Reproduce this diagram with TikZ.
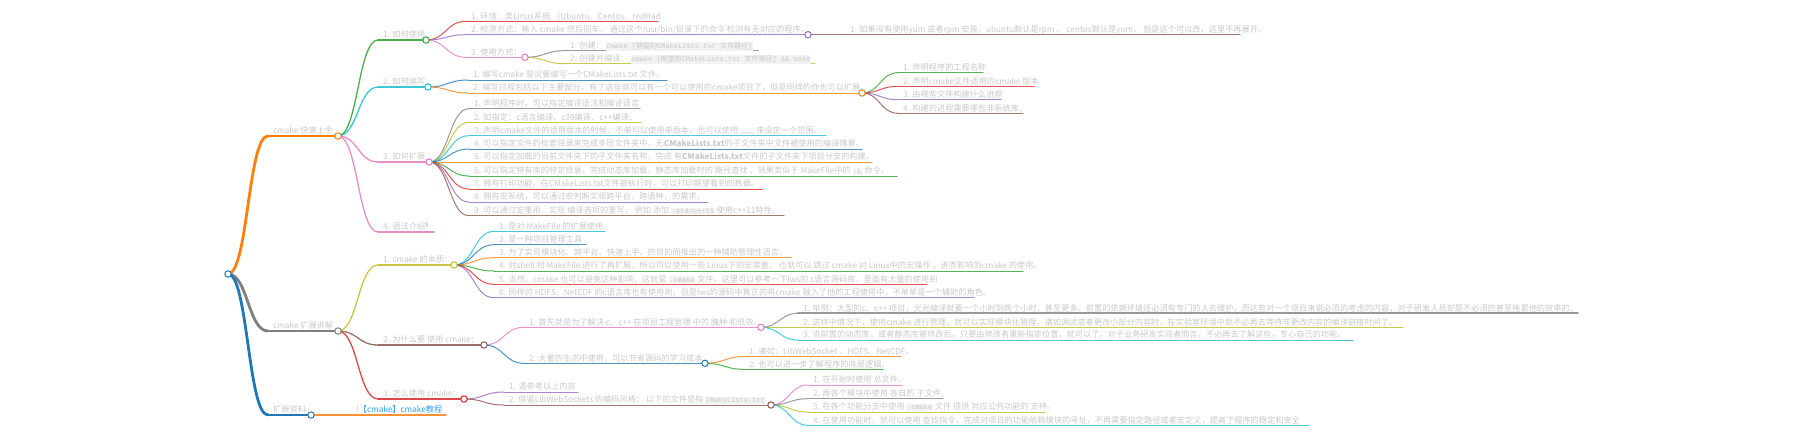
\documentclass[tikz,border=0pt]{standalone}
\usepackage{fontspec}
\setmainfont{Noto Sans CJK SC}
\setmonofont{Liberation Mono}
\newfontfamily\zhfont{Noto Sans CJK SC}
\usetikzlibrary{calc}

\definecolor{cblue}{HTML}{1F77B4}
\definecolor{corange}{HTML}{FF7F0E}
\definecolor{cgreen}{HTML}{2CA02C}
\definecolor{cred}{HTML}{D62728}
\definecolor{cpurple}{HTML}{9467BD}
\definecolor{cbrown}{HTML}{8C564B}
\definecolor{cpink}{HTML}{E377C2}
\definecolor{cgray}{HTML}{7F7F7F}
\definecolor{colive}{HTML}{BCBD22}
\definecolor{ccyan}{HTML}{17BECF}
\definecolor{txtgray}{RGB}{200,200,200}
\definecolor{codebg}{RGB}{242,242,242}
\definecolor{linkblue}{RGB}{50,160,230}

% inline code in a grey box
\newcommand{\code}[1]{{\setlength{\fboxsep}{0.8pt}\colorbox{codebg}{\ttfamily\fontsize{7}{8}\selectfont #1}}}
% topic: name, x start, x end, y, line style, text
\newcommand{\mmtopic}[6]{%
  \coordinate (#1) at (#2,#4);
  \coordinate (#1-e) at (#3,#4);
  \draw[#5] (#1) -- (#1-e);
  \node[txt] (#1-t) at ($(#1)+(5,-2.2)$) {#6};}
% branch from parent circle to child line
\newcommand{\mmlink}[3]{%
  \draw[#3] let \p1=(#1-e), \p2=(#2) in
    (\p1) .. controls ({(\x1+\x2)/2},\y1) and ({(\x1+\x2)/2},\y2) .. (\p2);}

\begin{document}
\begin{tikzpicture}[x=1pt,y=-1pt,line cap=round,
  dot/.style={circle,fill=white,line width=1pt,inner sep=0pt,minimum size=6.4pt},
  txt/.style={anchor=base west,inner sep=0pt,text=txtgray,font=\fontsize{8.2}{9}\selectfont},
  l1/.style={line width=2.8pt},l2/.style={line width=1.3pt,draw opacity=.85},
  l3/.style={line width=1pt,draw opacity=.8}]
\useasboundingbox (0,0) rectangle (1812,437);
\coordinate (root-e) at (228,274);

% level 1
\mmtopic{A}{268}{338}{136}{l1,corange}{cmake 快速上手}
\mmtopic{B}{268}{338}{331}{l1,cgray}{cmake 扩展讲解}
\mmtopic{C}{268}{311}{415}{l1,cblue}{扩展资料}

% cmake 快速上手
\mmtopic{A1}{378}{426}{40}{l2,cgreen}{1. 如何使用}
\mmtopic{A2}{378}{428}{87}{l2,ccyan}{2. 如何编写}
\mmtopic{A3}{378}{429}{162}{l2,cpink}{3. 如何扩展}
\mmtopic{A4}{378}{434}{232}{l2,cpink}{4. 语法介绍\textsuperscript{\color{linkblue}1}}

\mmtopic{A11}{466}{658}{21.3}{l3,cred}{1. 环境：类Linux系统 （Ubuntu、Centos、redHad}
\mmtopic{A12}{466}{808}{34.7}{l3,cpurple}{2. 检测方式：输入 cmake 然后回车， 通过这个/usr/bin/目录下的命令 检测有无对应的程序。}
\mmtopic{A121}{845}{1240}{34.7}{l3,cbrown}{1. 如果没有使用yum 或者rpm 安装。ubuntu默认是rpm 、 centos默认是yum， 但是这个可以改，这里不再展开。}
\mmtopic{A13}{466}{525}{57.3}{l3,cpink}{3. 使用方式：}
\mmtopic{A131}{565}{758}{50.7}{l3,cgray}{1. 创建： \code{cmake [{\zhfont 期望的}CMakeLists.txt {\zhfont 文件路径}]}}
\mmtopic{A132}{565}{815}{63.7}{l3,colive}{2. 创建并编译： \code{cmake [{\zhfont 期望的}CMakeLists.txt {\zhfont 文件路径}] \&\& make}}

\mmtopic{A21}{468}{667}{80}{l3,cblue}{1. 编写cmake 是说要编写一个CMakeLists.txt 文件。}
\mmtopic{A22}{468}{862}{93}{l3,corange}{2. 编写过程包括以下主要部分，有了这些就可以有一个可以使用的cmake项目了，但是同样的你也可以扩展。}
\mmtopic{A221}{898}{983}{72.7}{l3,cgreen}{1. 声明程序的工程名称}
\mmtopic{A222}{898}{1034}{86.3}{l3,cred}{2. 声明cmake文件适用的cmake 版本}
\mmtopic{A223}{898}{1001}{99.7}{l3,cpurple}{3. 由哪些文件构建什么进程}
\mmtopic{A224}{898}{1023}{113.3}{l3,cbrown}{4. 构建的进程需要哪些非系统库。}

\mmtopic{A31}{469}{640}{108.7}{l3,cgray}{1. 声明程序时，可以指定编译语法和编译语言}
\mmtopic{A32}{469}{641}{122.3}{l3,colive}{2. 如指定：c语言编译、c99编译、c++编译、}
\mmtopic{A33}{469}{826}{135.7}{l3,ccyan}{3. 声明cmake文件的适用版本的时候，不单可以使用单版本，也可以使用 \code{...} 来设定一个范围。}
\mmtopic{A34}{469}{862}{149}{l3,cblue}{4. 可以指定文件的检索目录来完成多层文件夹中，无\textbf{CMakeLists.txt}的子文件夹中文件被使用的编译情景。}
\mmtopic{A35}{469}{872}{162}{l3,corange}{5. 可以指定加载的当前文件夹下的子文件夹名称，完成 有\textbf{CMakeLists.txt}文件的子文件夹下项目分支的构建。}
\mmtopic{A36}{469}{897}{176}{l3,cgreen}{6. 可以指定特有库的特定目录，完成动态库加载，静态库加载时的 路径查找 。效果类似于 MakeFile中的 \code{-L} 命令。}
\mmtopic{A37}{469}{762}{189}{l3,cred}{7. 拥有打印功能，在CMakeLists.txt文件被执行时，可以打印期望看到的数据。}
\mmtopic{A38}{469}{708}{202}{l3,cpurple}{8. 拥有宏系统，可以通过宏判断实现跨平台，跨语种，的需求。}
\mmtopic{A39}{469}{784}{215.7}{l3,cbrown}{9. 可以通过宏重用，实现 编译选项的重写， 例如 添加 \code{-std=c++11} 使用c++11特性。}

% cmake 扩展讲解
\mmtopic{B1}{378}{454}{265}{l2,colive}{1. cmake 的本质：}
\mmtopic{B2}{378}{484}{345}{l2,cbrown}{2. 为什么要 使用 cmake：}
\mmtopic{B3}{378}{464}{399}{l2,cred}{3. 怎么使用 cmake：}

\mmtopic{B11}{494}{605}{231.3}{l3,ccyan}{1. 是对 MakeFile 的扩展使用}
\mmtopic{B12}{494}{586}{244.7}{l3,cblue}{2. 是一种项目管理工具}
\mmtopic{B13}{494}{791}{257.7}{l3,corange}{3. 为了实现模块化、跨平台、快速上手、的目的而推出的一种辅助管理性语言。}
\mmtopic{B14}{494}{1023}{271}{l3,cgreen}{4. 对shell 和 MakeFile 进行了再扩展，所以可以使用一些 Linux下的宏常量。 也就可以 跳过 cmake 对 Linux中的宏操作 ，进而影响到cmake 的使用。}
\mmtopic{B15}{494}{927}{284.3}{l3,cred}{5. 当然，cmake 也可以避免这种影响，这就是 \code{.cmake} 文件，这里可以参考一下lws的 c语言源码库，里面有大量的使用到}
\mmtopic{B16}{494}{974}{297.7}{l3,cpurple}{6. 同样的 HDF5、NetCDF 的c语言库也有使用到，但是lws的源码中真正的将cmake 融入了他的工程使用中，不单单是一个辅助的角色。}

\mmtopic{B21}{524}{761}{327.3}{l3,cpink}{1. 首先就是为了解决 c、c++ 在项目工程管理 中的 臃肿 和低效。}
\mmtopic{B211}{798}{1578}{313.3}{l3,cgray,line width=1.8pt}{1. 举例：大型的c、c++ 项目，光光编译就要一个小时到两个小时，甚至更多。前置的依赖环境还必须有专门的人去维护。而这些对一个项目来说必须的考虑的内容，对于研发人员却是不必须的甚至拖累他的效率的。}
\mmtopic{B212}{798}{1403}{327.3}{l3,colive}{2. 这样中情况下，使用cmake 进行管理，就可以实现模块化管理，诸如调试或者更改小部分内容时，在实验室环境中就不必再去等待非更改内容的编译链接时间了。}
\mmtopic{B213}{798}{1353}{340}{l3,ccyan}{3. 当前置的动态库，或者静态库被修改后，只要由修改者重新指定位置，就可以了。对于业务研发实现者而言，不必再去了解这些，专心自己的功能。}
\mmtopic{B22}{524}{705}{363.3}{l3,cblue}{2. 大量的生态中使用，可以节省源码的学习成本}
\mmtopic{B221}{744}{901}{356.7}{l3,corange}{1. 诸如：LibWebSocket 、HDF5、NetCDF，}
\mmtopic{B222}{744}{883}{369.3}{l3,cgreen}{2. 也可以进一步了解程序的底层逻辑。}

\mmtopic{B31}{504}{578}{392}{l3,cpurple}{1. 请参考以上内容}
\mmtopic{B32}{504}{771}{405}{l3,cbrown}{2. 借鉴LibWebSockets 的编码风格： 以下的文件是指 \code{CMakeLists.txt}}
\mmtopic{B321}{808}{902}{385}{l3,cpink}{1. 在开始时使用 总文件。}
\mmtopic{B322}{808}{943}{398.7}{l3,cgray}{2. 再各个模块中使用 各自的 子文件。}
\mmtopic{B323}{808}{1045}{412}{l3,colive}{3. 在各个功能分支中使用 \code{.cmake} 文件 提供 对应公共功能的 支持。}
\mmtopic{B324}{808}{1309}{425.3}{l3,ccyan}{4. 在使用功能时，就可以使用 查找指令，完成对项目的功能依赖模块的寻址，不再需要指定路径或者宏定义，提高了程序的稳定和安全}

% 扩展资料
\mmtopic{C1}{351}{446}{415}{l2,corange}{!{\color{linkblue}【cmake】cmake教程}}

% branches
\mmlink{root}{A}{l1,corange}
\mmlink{root}{B}{l1,cgray}
\mmlink{root}{C}{l1,cblue}
\mmlink{A}{A1}{l2,cgreen}
\mmlink{A}{A2}{l2,ccyan}
\mmlink{A}{A3}{l2,cpink}
\mmlink{A}{A4}{l2,cpink}
\mmlink{A1}{A11}{l3,cred}
\mmlink{A1}{A12}{l3,cpurple}
\mmlink{A1}{A13}{l3,cpink}
\mmlink{A12}{A121}{l3,cbrown}
\mmlink{A13}{A131}{l3,cgray}
\mmlink{A13}{A132}{l3,colive}
\mmlink{A2}{A21}{l3,cblue}
\mmlink{A2}{A22}{l3,corange}
\mmlink{A22}{A221}{l3,cgreen}
\mmlink{A22}{A222}{l3,cred}
\mmlink{A22}{A223}{l3,cpurple}
\mmlink{A22}{A224}{l3,cbrown}
\mmlink{A3}{A31}{l3,cgray}
\mmlink{A3}{A32}{l3,colive}
\mmlink{A3}{A33}{l3,ccyan}
\mmlink{A3}{A34}{l3,cblue}
\mmlink{A3}{A35}{l3,corange}
\mmlink{A3}{A36}{l3,cgreen}
\mmlink{A3}{A37}{l3,cred}
\mmlink{A3}{A38}{l3,cpurple}
\mmlink{A3}{A39}{l3,cbrown}
\mmlink{B}{B1}{l2,colive}
\mmlink{B}{B2}{l2,cbrown}
\mmlink{B}{B3}{l2,cred}
\mmlink{B1}{B11}{l3,ccyan}
\mmlink{B1}{B12}{l3,cblue}
\mmlink{B1}{B13}{l3,corange}
\mmlink{B1}{B14}{l3,cgreen}
\mmlink{B1}{B15}{l3,cred}
\mmlink{B1}{B16}{l3,cpurple}
\mmlink{B2}{B21}{l3,cpink}
\mmlink{B2}{B22}{l3,cblue}
\mmlink{B21}{B211}{l3,cgray}
\mmlink{B21}{B212}{l3,colive}
\mmlink{B21}{B213}{l3,ccyan}
\mmlink{B22}{B221}{l3,corange}
\mmlink{B22}{B222}{l3,cgreen}
\mmlink{B3}{B31}{l3,cpurple}
\mmlink{B3}{B32}{l3,cbrown}
\mmlink{B32}{B321}{l3,cpink}
\mmlink{B32}{B322}{l3,cgray}
\mmlink{B32}{B323}{l3,colive}
\mmlink{B32}{B324}{l3,ccyan}
\mmlink{C}{C1}{l2,corange}

% circles on top
\foreach \n/\c in {root/cblue,A/corange,B/cgray,C/cblue,A1/cgreen,A12/cpurple,A13/cpink,
  A2/ccyan,A22/corange,A3/cpink,B1/colive,B2/cbrown,B21/cpink,B22/cblue,B3/cred,B32/cbrown}
  \node[dot,draw=\c] (\n-c) at (\n-e) {};
\end{tikzpicture}
\end{document}
